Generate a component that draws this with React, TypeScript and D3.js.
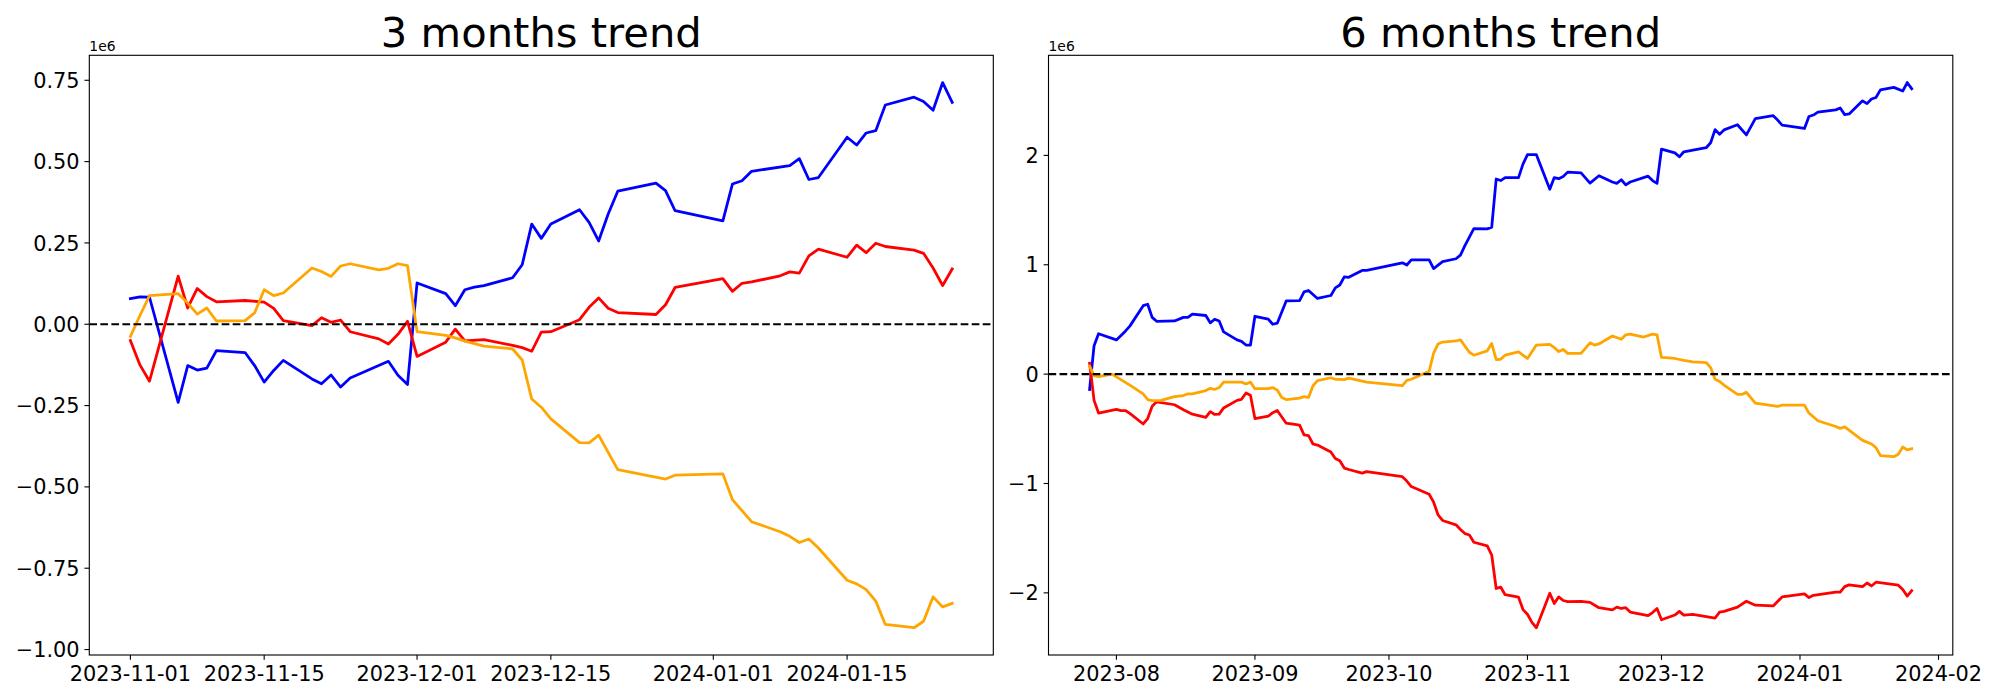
import React from 'react';
import * as d3 from 'd3';

// values are in units of 1e6
const blue3m: [string, number][] = [
  ["2023-11-01",0.079],["2023-11-02",0.084],["2023-11-03",0.083],["2023-11-06",-0.240],["2023-11-07",-0.127],["2023-11-08",-0.141],["2023-11-09",-0.135],["2023-11-10",-0.081],["2023-11-13",-0.087],["2023-11-14",-0.127],["2023-11-15",-0.178],["2023-11-16",-0.142],["2023-11-17",-0.111],["2023-11-20",-0.168],["2023-11-21",-0.183],["2023-11-22",-0.156],["2023-11-23",-0.193],["2023-11-24",-0.165],["2023-11-28",-0.114],["2023-11-29",-0.157],["2023-11-30",-0.185],["2023-12-01",0.127],["2023-12-04",0.094],["2023-12-05",0.057],["2023-12-06",0.106],["2023-12-07",0.114],["2023-12-08",0.119],["2023-12-11",0.143],["2023-12-12",0.183],["2023-12-13",0.308],["2023-12-14",0.264],["2023-12-15",0.308],["2023-12-18",0.352],["2023-12-19",0.313],["2023-12-20",0.256],["2023-12-21",0.339],["2023-12-22",0.409],["2023-12-26",0.434],["2023-12-27",0.411],["2023-12-28",0.349],["2024-01-02",0.318],["2024-01-03",0.431],["2024-01-04",0.441],["2024-01-05",0.470],["2024-01-09",0.488],["2024-01-10",0.509],["2024-01-11",0.445],["2024-01-12",0.451],["2024-01-15",0.575],["2024-01-16",0.551],["2024-01-17",0.588],["2024-01-18",0.595],["2024-01-19",0.674],["2024-01-22",0.698],["2024-01-23",0.685],["2024-01-24",0.658],["2024-01-25",0.743],["2024-01-26",0.682],
];

const red3m: [string, number][] = [
  ["2023-11-01",-0.050],["2023-11-02",-0.125],["2023-11-03",-0.175],["2023-11-06",0.148],["2023-11-07",0.050],["2023-11-08",0.110],["2023-11-09",0.085],["2023-11-10",0.069],["2023-11-13",0.073],["2023-11-15",0.068],["2023-11-16",0.049],["2023-11-17",0.011],["2023-11-20",-0.004],["2023-11-21",0.020],["2023-11-22",0.006],["2023-11-23",0.013],["2023-11-24",-0.023],["2023-11-27",-0.045],["2023-11-28",-0.061],["2023-11-29",-0.031],["2023-11-30",0.009],["2023-12-01",-0.099],["2023-12-04",-0.055],["2023-12-05",-0.015],["2023-12-06",-0.051],["2023-12-08",-0.047],["2023-12-11",-0.065],["2023-12-12",-0.072],["2023-12-13",-0.083],["2023-12-14",-0.024],["2023-12-15",-0.023],["2023-12-18",0.014],["2023-12-19",0.052],["2023-12-20",0.081],["2023-12-21",0.049],["2023-12-22",0.036],["2023-12-26",0.030],["2023-12-27",0.060],["2023-12-28",0.113],["2024-01-02",0.140],["2024-01-03",0.101],["2024-01-04",0.126],["2024-01-05",0.130],["2024-01-08",0.149],["2024-01-09",0.161],["2024-01-10",0.157],["2024-01-11",0.210],["2024-01-12",0.231],["2024-01-15",0.206],["2024-01-16",0.243],["2024-01-17",0.220],["2024-01-18",0.249],["2024-01-19",0.239],["2024-01-22",0.228],["2024-01-23",0.218],["2024-01-24",0.173],["2024-01-25",0.119],["2024-01-26",0.170],
];

const orange3m: [string, number][] = [
  ["2023-11-01",-0.037],["2023-11-02",0.027],["2023-11-03",0.088],["2023-11-06",0.094],["2023-11-07",0.065],["2023-11-08",0.031],["2023-11-09",0.050],["2023-11-10",0.010],["2023-11-13",0.011],["2023-11-14",0.035],["2023-11-15",0.106],["2023-11-16",0.088],["2023-11-17",0.096],["2023-11-20",0.173],["2023-11-21",0.162],["2023-11-22",0.147],["2023-11-23",0.179],["2023-11-24",0.186],["2023-11-27",0.167],["2023-11-28",0.172],["2023-11-29",0.186],["2023-11-30",0.180],["2023-12-01",-0.023],["2023-12-04",-0.034],["2023-12-05",-0.042],["2023-12-06",-0.052],["2023-12-08",-0.067],["2023-12-11",-0.076],["2023-12-12",-0.110],["2023-12-13",-0.230],["2023-12-14",-0.255],["2023-12-15",-0.291],["2023-12-18",-0.364],["2023-12-19",-0.365],["2023-12-20",-0.341],["2023-12-22",-0.447],["2023-12-27",-0.476],["2023-12-28",-0.464],["2024-01-02",-0.460],["2024-01-03",-0.539],["2024-01-05",-0.607],["2024-01-08",-0.638],["2024-01-09",-0.652],["2024-01-10",-0.671],["2024-01-11",-0.660],["2024-01-12",-0.688],["2024-01-15",-0.787],["2024-01-16",-0.798],["2024-01-17",-0.816],["2024-01-18",-0.851],["2024-01-19",-0.923],["2024-01-22",-0.933],["2024-01-23",-0.913],["2024-01-24",-0.838],["2024-01-25",-0.869],["2024-01-26",-0.858],
];

const blue6m: [string, number][] = [
  ["2023-07-26",-0.140],["2023-07-27",0.260],["2023-07-28",0.369],["2023-08-01",0.313],["2023-08-03",0.393],["2023-08-04",0.439],["2023-08-07",0.626],["2023-08-08",0.639],["2023-08-09",0.519],["2023-08-10",0.483],["2023-08-14",0.486],["2023-08-16",0.519],["2023-08-17",0.519],["2023-08-18",0.549],["2023-08-21",0.536],["2023-08-22",0.469],["2023-08-23",0.502],["2023-08-24",0.486],["2023-08-25",0.386],["2023-08-28",0.313],["2023-08-29",0.300],["2023-08-30",0.266],["2023-08-31",0.266],["2023-09-01",0.529],["2023-09-04",0.502],["2023-09-05",0.456],["2023-09-06",0.466],["2023-09-08",0.669],["2023-09-11",0.672],["2023-09-12",0.752],["2023-09-13",0.765],["2023-09-15",0.692],["2023-09-18",0.719],["2023-09-19",0.789],["2023-09-20",0.815],["2023-09-21",0.889],["2023-09-22",0.885],["2023-09-25",0.948],["2023-09-26",0.948],["2023-10-04",1.018],["2023-10-05",0.998],["2023-10-06",1.045],["2023-10-10",1.045],["2023-10-11",0.965],["2023-10-13",1.028],["2023-10-16",1.055],["2023-10-17",1.088],["2023-10-18",1.175],["2023-10-20",1.331],["2023-10-23",1.328],["2023-10-24",1.344],["2023-10-25",1.784],["2023-10-26",1.770],["2023-10-27",1.797],["2023-10-30",1.797],["2023-10-31",1.920],["2023-11-01",2.007],["2023-11-03",2.007],["2023-11-06",1.690],["2023-11-07",1.797],["2023-11-08",1.787],["2023-11-09",1.807],["2023-11-10",1.847],["2023-11-13",1.840],["2023-11-15",1.747],["2023-11-17",1.814],["2023-11-20",1.757],["2023-11-21",1.744],["2023-11-22",1.777],["2023-11-23",1.730],["2023-11-24",1.757],["2023-11-28",1.810],["2023-11-29",1.770],["2023-11-30",1.744],["2023-12-01",2.057],["2023-12-04",2.023],["2023-12-05",1.987],["2023-12-06",2.033],["2023-12-11",2.070],["2023-12-12",2.116],["2023-12-13",2.236],["2023-12-14",2.193],["2023-12-15",2.233],["2023-12-18",2.280],["2023-12-20",2.187],["2023-12-22",2.336],["2023-12-26",2.363],["2023-12-27",2.323],["2023-12-28",2.276],["2024-01-02",2.246],["2024-01-03",2.356],["2024-01-04",2.369],["2024-01-05",2.396],["2024-01-09",2.416],["2024-01-10",2.433],["2024-01-11",2.373],["2024-01-12",2.379],["2024-01-15",2.499],["2024-01-16",2.473],["2024-01-17",2.516],["2024-01-18",2.529],["2024-01-19",2.599],["2024-01-22",2.622],["2024-01-24",2.589],["2024-01-25",2.666],["2024-01-26",2.609],
];

const red6m: [string, number][] = [
  ["2023-07-26",0.100],["2023-07-27",-0.240],["2023-07-28",-0.356],["2023-08-01",-0.323],["2023-08-02",-0.333],["2023-08-03",-0.333],["2023-08-04",-0.359],["2023-08-07",-0.456],["2023-08-08",-0.406],["2023-08-09",-0.293],["2023-08-10",-0.253],["2023-08-14",-0.280],["2023-08-16",-0.326],["2023-08-18",-0.366],["2023-08-21",-0.396],["2023-08-22",-0.343],["2023-08-23",-0.369],["2023-08-24",-0.366],["2023-08-25",-0.309],["2023-08-28",-0.240],["2023-08-29",-0.230],["2023-08-30",-0.173],["2023-08-31",-0.193],["2023-09-01",-0.406],["2023-09-04",-0.383],["2023-09-05",-0.353],["2023-09-06",-0.333],["2023-09-08",-0.449],["2023-09-11",-0.466],["2023-09-12",-0.556],["2023-09-13",-0.562],["2023-09-14",-0.639],["2023-09-15",-0.649],["2023-09-18",-0.712],["2023-09-19",-0.772],["2023-09-20",-0.792],["2023-09-21",-0.859],["2023-09-22",-0.872],["2023-09-25",-0.905],["2023-09-26",-0.892],["2023-10-04",-0.938],["2023-10-05",-0.978],["2023-10-06",-1.028],["2023-10-10",-1.098],["2023-10-11",-1.171],["2023-10-12",-1.288],["2023-10-13",-1.338],["2023-10-16",-1.378],["2023-10-17",-1.421],["2023-10-18",-1.458],["2023-10-19",-1.471],["2023-10-20",-1.537],["2023-10-23",-1.571],["2023-10-24",-1.654],["2023-10-25",-1.960],["2023-10-26",-1.947],["2023-10-27",-2.017],["2023-10-30",-2.040],["2023-10-31",-2.153],["2023-11-01",-2.196],["2023-11-02",-2.270],["2023-11-03",-2.319],["2023-11-06",-2.003],["2023-11-07",-2.097],["2023-11-08",-2.037],["2023-11-09",-2.070],["2023-11-10",-2.080],["2023-11-13",-2.077],["2023-11-15",-2.087],["2023-11-17",-2.136],["2023-11-20",-2.156],["2023-11-21",-2.130],["2023-11-22",-2.143],["2023-11-23",-2.136],["2023-11-24",-2.176],["2023-11-28",-2.209],["2023-11-29",-2.180],["2023-11-30",-2.143],["2023-12-01",-2.246],["2023-12-04",-2.203],["2023-12-05",-2.170],["2023-12-06",-2.203],["2023-12-08",-2.196],["2023-12-13",-2.230],["2023-12-14",-2.176],["2023-12-15",-2.170],["2023-12-18",-2.130],["2023-12-20",-2.077],["2023-12-22",-2.113],["2023-12-26",-2.120],["2023-12-28",-2.037],["2024-01-02",-2.010],["2024-01-03",-2.043],["2024-01-04",-2.023],["2024-01-09",-1.993],["2024-01-10",-1.993],["2024-01-11",-1.943],["2024-01-12",-1.927],["2024-01-15",-1.943],["2024-01-16",-1.910],["2024-01-17",-1.937],["2024-01-18",-1.903],["2024-01-23",-1.930],["2024-01-24",-1.970],["2024-01-25",-2.030],["2024-01-26",-1.980],
];

const orange6m: [string, number][] = [
  ["2023-07-26",0.073],["2023-07-27",-0.013],["2023-07-28",-0.023],["2023-07-31",0.000],["2023-08-04",-0.100],["2023-08-07",-0.180],["2023-08-08",-0.233],["2023-08-09",-0.243],["2023-08-11",-0.240],["2023-08-14",-0.206],["2023-08-16",-0.196],["2023-08-17",-0.180],["2023-08-18",-0.180],["2023-08-21",-0.150],["2023-08-22",-0.130],["2023-08-23",-0.140],["2023-08-24",-0.123],["2023-08-25",-0.073],["2023-08-28",-0.073],["2023-08-29",-0.073],["2023-08-30",-0.090],["2023-08-31",-0.073],["2023-09-01",-0.133],["2023-09-04",-0.133],["2023-09-05",-0.123],["2023-09-06",-0.146],["2023-09-07",-0.213],["2023-09-08",-0.233],["2023-09-11",-0.220],["2023-09-12",-0.206],["2023-09-13",-0.213],["2023-09-14",-0.106],["2023-09-15",-0.060],["2023-09-18",-0.033],["2023-09-19",-0.047],["2023-09-20",-0.047],["2023-09-21",-0.050],["2023-09-22",-0.037],["2023-09-26",-0.073],["2023-10-04",-0.106],["2023-10-05",-0.057],["2023-10-06",-0.047],["2023-10-10",0.027],["2023-10-11",0.193],["2023-10-12",0.276],["2023-10-13",0.293],["2023-10-16",0.303],["2023-10-17",0.313],["2023-10-19",0.200],["2023-10-20",0.173],["2023-10-23",0.213],["2023-10-24",0.280],["2023-10-25",0.133],["2023-10-26",0.136],["2023-10-27",0.173],["2023-10-30",0.203],["2023-11-01",0.143],["2023-11-03",0.266],["2023-11-06",0.273],["2023-11-07",0.243],["2023-11-08",0.206],["2023-11-09",0.226],["2023-11-10",0.190],["2023-11-13",0.190],["2023-11-15",0.286],["2023-11-16",0.266],["2023-11-17",0.276],["2023-11-20",0.349],["2023-11-22",0.319],["2023-11-23",0.359],["2023-11-24",0.366],["2023-11-27",0.339],["2023-11-29",0.366],["2023-11-30",0.359],["2023-12-01",0.153],["2023-12-04",0.143],["2023-12-06",0.126],["2023-12-08",0.113],["2023-12-11",0.106],["2023-12-12",0.060],["2023-12-13",-0.047],["2023-12-14",-0.067],["2023-12-15",-0.100],["2023-12-18",-0.186],["2023-12-19",-0.186],["2023-12-20",-0.166],["2023-12-22",-0.266],["2023-12-27",-0.296],["2023-12-28",-0.283],["2024-01-02",-0.283],["2024-01-03",-0.356],["2024-01-05",-0.426],["2024-01-09",-0.479],["2024-01-10",-0.496],["2024-01-11",-0.483],["2024-01-15",-0.606],["2024-01-17",-0.639],["2024-01-18",-0.672],["2024-01-19",-0.745],["2024-01-22",-0.755],["2024-01-23",-0.732],["2024-01-24",-0.666],["2024-01-25",-0.692],["2024-01-26",-0.682],
];

const ticks3mX = ["2023-11-01","2023-11-15","2023-12-01","2023-12-15","2024-01-01","2024-01-15"];
const ticks3mY = [-1.0,-0.75,-0.5,-0.25,0,0.25,0.5,0.75];
const ticks6mX = ["2023-08","2023-09","2023-10","2023-11","2023-12","2024-01","2024-02"];
const ticks6mY = [-2,-1,0,1,2];
const titles = ["3 months trend", "6 months trend"];
const offsetLabel = "1e6";

const FONT = "'DejaVu Sans', sans-serif";
const parseDay = d3.utcParse("%Y-%m-%d");
const parseMonth = d3.utcParse("%Y-%m");
const minus = (s: string) => s.replace(/-/g, "\u2212");

type Series = { data: [string, number][]; color: string };

function Panel(props: {
  x0: number; x1: number; y0: number; y1: number; title: string;
  series: Series[]; xTicks: string[]; xParse: (s: string) => Date | null;
  yTicks: number[]; yFmt: (n: number) => string;
}) {
  const { x0, x1, y0, y1, title, series, xTicks, xParse, yTicks, yFmt } = props;
  const all = series.flatMap((s) => s.data.map((d) => ({ t: parseDay(d[0])!, v: d[1] })));
  const tExt = d3.extent(all, (d) => d.t.getTime()) as [number, number];
  const vExt = d3.extent(all, (d) => d.v) as [number, number];
  const tPad = (tExt[1] - tExt[0]) * 0.05;
  const vPad = (vExt[1] - vExt[0]) * 0.05;
  const x = d3.scaleUtc().domain([new Date(tExt[0] - tPad), new Date(tExt[1] + tPad)]).range([x0, x1]);
  const y = d3.scaleLinear().domain([vExt[0] - vPad, vExt[1] + vPad]).range([y1, y0]);
  const line = d3.line<[string, number]>().x((d) => x(parseDay(d[0])!)).y((d) => y(d[1]));
  const tickFs = 20.83;
  const clipId = "clip" + Math.round(x0);
  return (
    <g>
      <defs>
        <clipPath id={clipId}><rect x={x0} y={y0} width={x1 - x0} height={y1 - y0} /></clipPath>
      </defs>
      <g clipPath={`url(#${clipId})`}>
        {series.map((s, i) => (
          <path key={i} d={line(s.data) || ""} fill="none" stroke={s.color} strokeWidth={2.78}
            strokeLinejoin="round" strokeLinecap="square" />
        ))}
        <line x1={x0} x2={x1} y1={y(0)} y2={y(0)} stroke="#000" strokeWidth={2.08} strokeDasharray="7.7 3.33" />
      </g>
      <rect x={x0} y={y0} width={x1 - x0} height={y1 - y0} fill="none" stroke="#000" strokeWidth={1.11} />
      {xTicks.map((t) => {
        const px = x(xParse(t)!);
        return (
          <g key={t}>
            <line x1={px} x2={px} y1={y1} y2={y1 + 4.86} stroke="#000" strokeWidth={1.11} />
            <text x={px} y={y1 + 9.72 + 15.9} fontSize={tickFs} fontFamily={FONT} textAnchor="middle" fill="#000">{t}</text>
          </g>
        );
      })}
      {yTicks.map((t) => {
        const py = y(t);
        return (
          <g key={t}>
            <line x1={x0 - 4.86} x2={x0} y1={py} y2={py} stroke="#000" strokeWidth={1.11} />
            <text x={x0 - 9.72} y={py + 7.6} fontSize={tickFs} fontFamily={FONT} textAnchor="end" fill="#000">{yFmt(t)}</text>
          </g>
        );
      })}
      <text x={x0} y={y0 - 4.5} fontSize={13.9} fontFamily={FONT} fill="#000">{offsetLabel}</text>
      <text x={(x0 + x1) / 2} y={y0 - 8.5} fontSize={41.67} fontFamily={FONT} textAnchor="middle" fill="#000">{title}</text>
    </g>
  );
}

export default function App() {
  const f2 = d3.format(".2f");
  const fi = d3.format("d");
  return (
    <svg width={2000} height={700} style={{ position: "absolute", left: 0, top: 0, background: "#fff" }}>
      <rect x={0} y={0} width={2000} height={700} fill="#fff" />
      <Panel x0={89.3} x1={993.3} y0={55.3} y1={655} title={titles[0]}
        series={[{ data: blue3m, color: "blue" }, { data: red3m, color: "red" }, { data: orange3m, color: "orange" }]}
        xTicks={ticks3mX} xParse={(s) => parseDay(s)} yTicks={ticks3mY} yFmt={(n) => minus(f2(n))} />
      <Panel x0={1048.5} x1={1952.8} y0={55.3} y1={655} title={titles[1]}
        series={[{ data: blue6m, color: "blue" }, { data: red6m, color: "red" }, { data: orange6m, color: "orange" }]}
        xTicks={ticks6mX} xParse={(s) => parseMonth(s)} yTicks={ticks6mY} yFmt={(n) => minus(fi(n))} />
    </svg>
  );
}
